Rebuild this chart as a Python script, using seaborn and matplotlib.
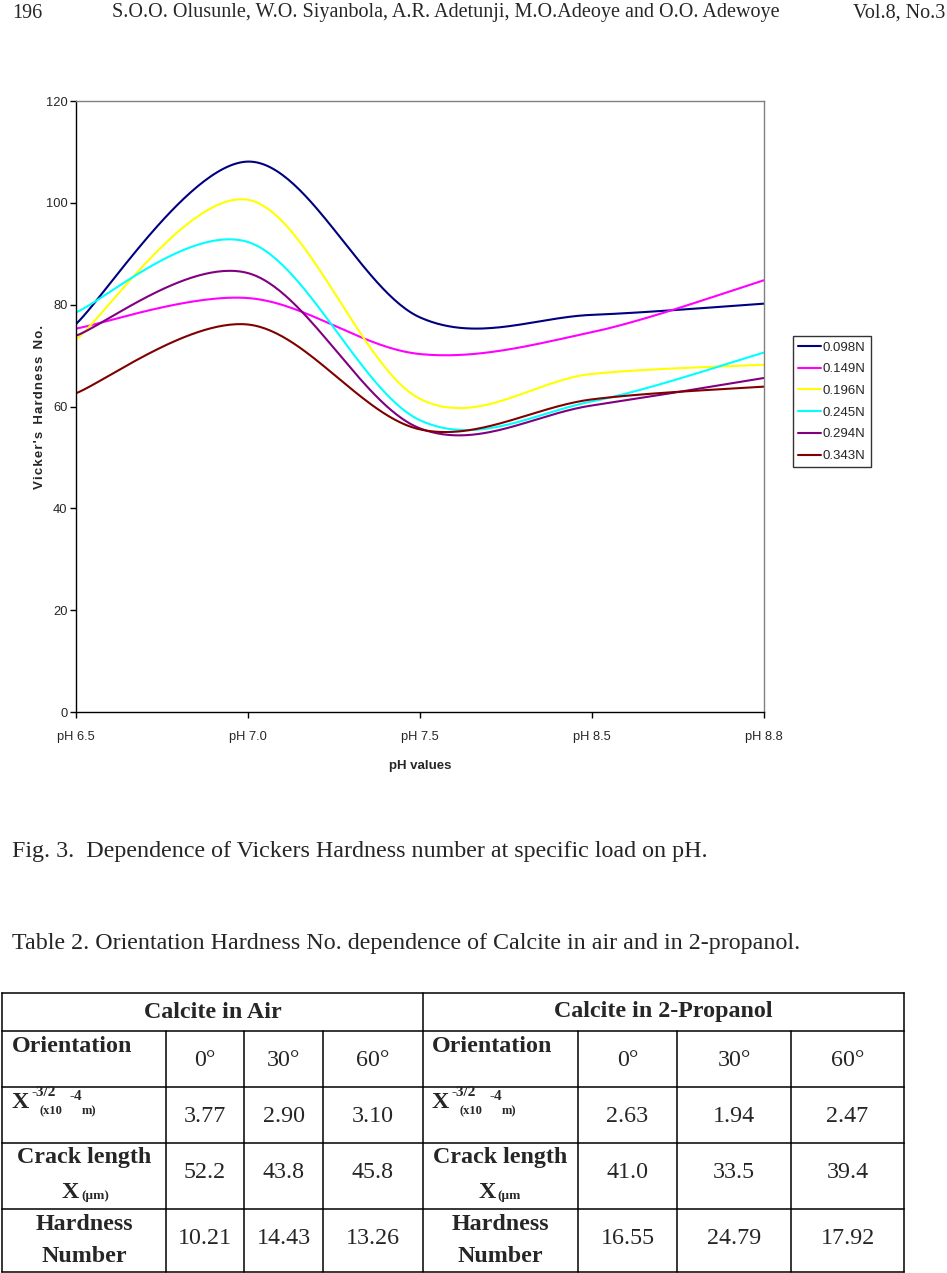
import numpy as np
import pandas as pd
import matplotlib
matplotlib.use("Agg")
import matplotlib.pyplot as plt
import seaborn as sns
from matplotlib import font_manager

# ---------------- data ----------------
ph_labels = ["pH 6.5", "pH 7.0", "pH 7.5", "pH 8.5", "pH 8.8"]
loads = ["0.098N", "0.149N", "0.196N", "0.245N", "0.294N", "0.343N"]
hv_0098 = [76.2, 108.1, 77.5, 78.0, 80.2]
hv_0149 = [75.3, 81.3, 70.3, 74.6, 84.8]
hv_0196 = [73.1, 100.6, 61.5, 66.4, 68.2]
hv_0245 = [78.5, 92.3, 57.3, 61.0, 70.6]
hv_0294 = [73.9, 86.2, 55.7, 60.2, 65.6]
hv_0343 = [62.6, 76.1, 55.5, 61.4, 63.9]
series = [hv_0098, hv_0149, hv_0196, hv_0245, hv_0294, hv_0343]
line_colors = ["#000080", "#FF00FF", "#FFFF00", "#00FFFF", "#800080", "#800000"]
y_ticks = [0, 20, 40, 60, 80, 100, 120]

header_page = "196"
header_authors = "S.O.O. Olusunle, W.O. Siyanbola, A.R. Adetunji, M.O.Adeoye and O.O. Adewoye"
header_vol = "Vol.8, No.3"
fig_caption = "Fig. 3.  Dependence of Vickers Hardness number at specific load on pH."
table_caption = "Table 2. Orientation Hardness No. dependence of Calcite in air and in 2-propanol."

group_titles = ["Calcite in Air", "Calcite in 2-Propanol"]
orientations = ["0°", "30°", "60°"]
x32_air = ["3.77", "2.90", "3.10"]
x32_prop = ["2.63", "1.94", "2.47"]
crack_air = ["52.2", "43.8", "45.8"]
crack_prop = ["41.0", "33.5", "39.4"]
hard_air = ["10.21", "14.43", "13.26"]
hard_prop = ["16.55", "24.79", "17.92"]

# ---------------- fonts ----------------
def have(name):
    try:
        font_manager.findfont(font_manager.FontProperties(family=name), fallback_to_default=False)
        return True
    except Exception:
        return False

sns.set_style("ticks")
narrow = "Liberation Sans Narrow" if have("Liberation Sans Narrow") else "Liberation Sans"
serif = "Liberation Serif"
plt.rcParams["font.family"] = [narrow, "DejaVu Sans"]

# ---------------- Excel-like smoothing (Bezier through points) ----------------
def excel_smooth(vals, n=60):
    pts = np.column_stack([np.arange(len(vals), dtype=float), np.asarray(vals, float)])
    out = []
    m = len(pts)
    for i in range(m - 1):
        p0 = pts[max(i - 1, 0)]
        p1 = pts[i]
        p2 = pts[i + 1]
        p3 = pts[min(i + 2, m - 1)]
        c1 = p1 + (p2 - p0) / 6.0
        c2 = p2 - (p3 - p1) / 6.0
        t = np.linspace(0, 1, n, endpoint=(i == m - 2))[:, None]
        seg = (1 - t) ** 3 * p1 + 3 * (1 - t) ** 2 * t * c1 + 3 * (1 - t) * t ** 2 * c2 + t ** 3 * p2
        out.append(seg)
    return np.vstack(out)

frames = []
for name, vals in zip(loads, series):
    sm = excel_smooth(vals)
    frames.append(pd.DataFrame({"x": sm[:, 0], "y": sm[:, 1], "load": name}))
df = pd.concat(frames, ignore_index=True)

# ---------------- figure ----------------
W, H = 947, 1273
fig = plt.figure(figsize=(W / 100, H / 100), dpi=100)
fig.patch.set_facecolor("white")

page = fig.add_axes([0, 0, 1, 1])
page.set_xlim(0, W)
page.set_ylim(H, 0)
page.axis("off")

# chart axes (pixel box: x 76..764, y 101..712)
L, R, T, B = 76, 764, 101, 712
ax = fig.add_axes([L / W, 1 - B / H, (R - L) / W, (B - T) / H])
sns.lineplot(data=df, x="x", y="y", hue="load", palette=line_colors, sort=False,
             estimator=None, linewidth=1.5, ax=ax)
ax.set_xlim(0, 4)
ax.set_ylim(0, 120)
ax.set_xticks(range(len(ph_labels)))
ax.set_xticklabels(ph_labels)
ax.set_yticks(y_ticks)
ax.set_yticklabels([str(v) for v in y_ticks])
ax.tick_params(axis="both", direction="out", length=4, width=1, color="black",
               labelsize=9.3, pad=2)
ax.tick_params(axis="x", pad=10)
for s in ["left", "bottom"]:
    ax.spines[s].set_color("black")
    ax.spines[s].set_linewidth(1)
for s in ["top", "right"]:
    ax.spines[s].set_visible(True)
    ax.spines[s].set_color("#808080")
    ax.spines[s].set_linewidth(1)
ax.set_xlabel("pH values", fontsize=9.5, fontweight="bold", labelpad=12)
hs = "\u200a"
ylab = "  ".join(hs.join(list(w)) for w in ["Vicker's", "Hardness", "No."])
ax.set_ylabel(ylab, fontsize=9.5, fontweight="bold", labelpad=0)

handles, labels = ax.get_legend_handles_labels()
leg = ax.legend(handles, labels, loc="upper left",
                bbox_to_anchor=(793 / W, 1 - 336 / H), bbox_transform=fig.transFigure,
                frameon=True, fancybox=False, fontsize=9.5, handlelength=1.7,
                handletextpad=0.15, labelspacing=0.72, borderpad=0.4, borderaxespad=0)
leg.get_frame().set_edgecolor("black")
leg.get_frame().set_linewidth(1)
for lh in leg.get_lines():
    lh.set_linewidth(1.5)

# ---------------- page text ----------------
def ptext(x, y, s, size=15, weight="normal", ha="left", va="center"):
    page.text(x, y, s, fontsize=size, fontweight=weight, ha=ha, va=va, family=[serif, "DejaVu Serif"])

ptext(12, 13, header_page, size=14.5)
ptext(112, 13, header_authors, size=14.5)
ptext(945, 13, header_vol, size=14.5, ha="right")
ptext(12, 851, fig_caption, size=17.3)
ptext(12, 943, table_caption, size=17.3)

# ---------------- table ----------------
rows_y = [993, 1031, 1087, 1143, 1209, 1272]
cols_x = [2, 166, 244, 323, 423, 578, 677, 791, 904]
lw = 1.1
for yy in rows_y:
    page.plot([cols_x[0], cols_x[-1]], [yy, yy], color="black", lw=lw, solid_capstyle="projecting")
for xx in cols_x:
    if xx in (2, 423, 904):
        page.plot([xx, xx], [rows_y[0], rows_y[-1]], color="black", lw=lw)
    else:
        page.plot([xx, xx], [rows_y[1], rows_y[-1]], color="black", lw=lw)

ts = 17.3
cen = lambda a, b: (a + b) / 2
ptext(cen(2, 423), 1012, group_titles[0], size=ts, weight="bold", ha="center")
ptext(cen(423, 904), 1012, group_titles[1], size=ts, weight="bold", ha="center")

blocks = [(0, x32_air, crack_air, hard_air, 12), (4, x32_prop, crack_prop, hard_prop, 432)]
for c0, xv, cv, hv, lx in blocks:
    # orientation row
    ptext(lx, 1046, "Orientation", size=ts, weight="bold")
    for k in range(3):
        xc = cen(cols_x[c0 + 1 + k], cols_x[c0 + 2 + k])
        ptext(xc, 1060, orientations[k], size=ts, ha="center")
        ptext(xc, 1116, xv[k], size=ts, ha="center")
        ptext(xc, 1173, cv[k], size=ts, ha="center")
        ptext(xc, 1239, hv[k], size=ts, ha="center")
    # X^-3/2 (x10^-4 m)
    ptext(lx, 1103, "X", size=ts, weight="bold")
    ptext(lx + 19, 1093, "-3/2", size=11, weight="bold")
    ptext(lx + 27, 1111, "(x10", size=9, weight="bold")
    ptext(lx + 58, 1096, "-4", size=11, weight="bold")
    ptext(lx + 70, 1111, "m)", size=9, weight="bold")
    # crack length
    cc = cen(cols_x[c0], cols_x[c0 + 1])
    ptext(cc, 1158, "Crack length", size=ts, weight="bold", ha="center")
    ptext(cc - 5, 1192, "X", size=ts, weight="bold", ha="right")
    ptext(cc - 3, 1196, "(µm)" if c0 == 0 else "(µm", size=9.5, weight="bold", ha="left")
    ptext(cc, 1225, "Hardness", size=ts, weight="bold", ha="center")
    ptext(cc, 1256, "Number", size=ts, weight="bold", ha="center")

fig.savefig("out.png", dpi=100)
